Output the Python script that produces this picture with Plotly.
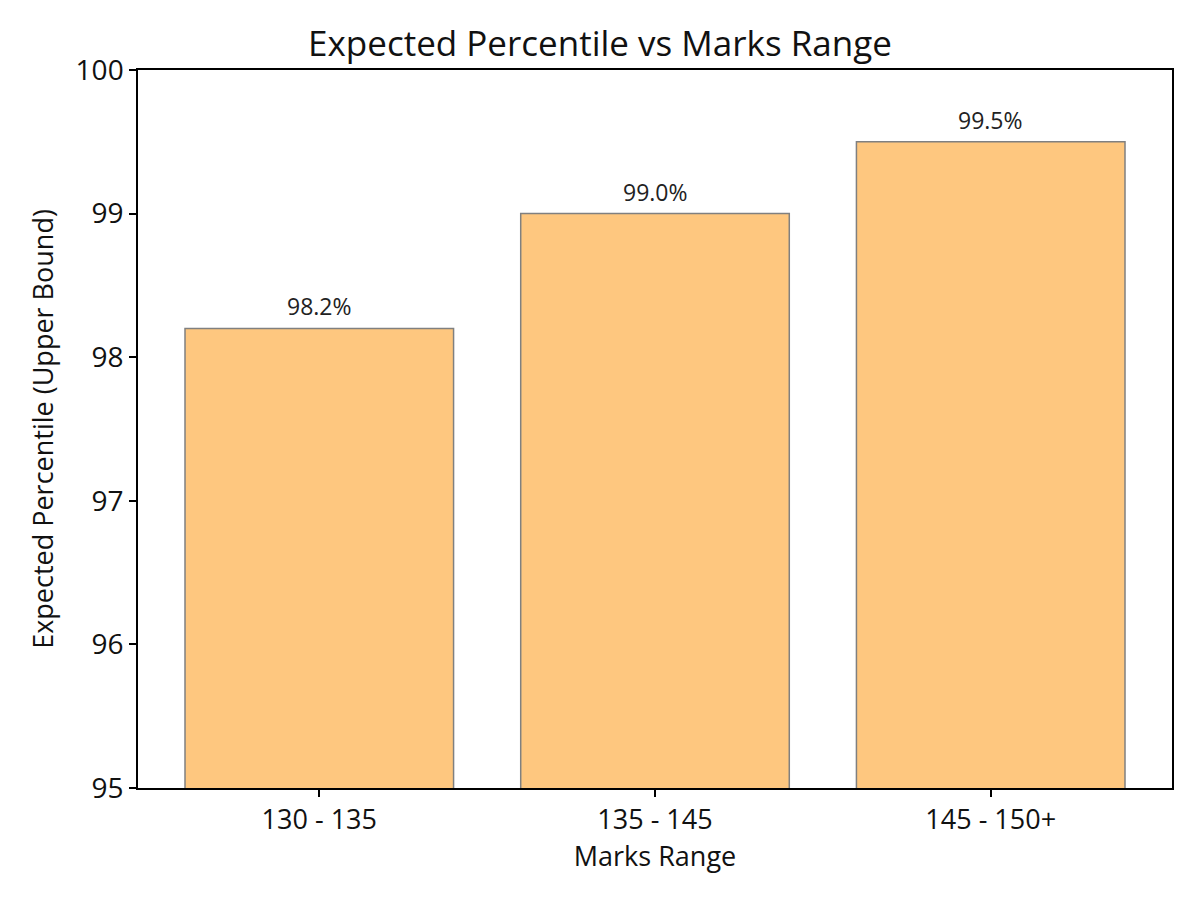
import plotly.graph_objects as go

# data
marks_range = ["130 - 135", "135 - 145", "145 - 150+"]
percentile = [98.2, 99.0, 99.5]
bar_labels = ["98.2%", "99.0%", "99.5%"]

font_family = "'Open Sans', sans-serif"

fig = go.Figure()
fig.add_trace(go.Bar(
    x=list(range(len(marks_range))),
    y=percentile,
    width=0.8,
    marker=dict(color="#fec77f", line=dict(color="#808080", width=1.5)),
    hoverinfo="y",
    showlegend=False,
))

# value labels above the bars
for i, (v, lab) in enumerate(zip(percentile, bar_labels)):
    fig.add_annotation(x=i, y=v, text=lab, showarrow=False,
                       yanchor="bottom", yshift=4,
                       font=dict(size=23, color="#222222", family=font_family))

fig.update_layout(
    width=1184, height=884,
    paper_bgcolor="white", plot_bgcolor="white",
    margin=dict(l=130, r=20, t=62, b=104),
    font=dict(family=font_family, color="#111111"),
    title=dict(text="Expected Percentile vs Marks Range", x=0.5, xanchor="center",
               y=0.96, yanchor="middle", font=dict(size=35, color="#111111")),
)
fig.update_xaxes(
    range=[-0.54, 2.54],
    tickmode="array", tickvals=list(range(len(marks_range))), ticktext=marks_range,
    ticks="outside", ticklen=7, tickwidth=1.5, tickcolor="black",
    showline=True, linecolor="black", linewidth=1.5, mirror=True,
    showgrid=False, zeroline=False,
    tickfont=dict(size=27),
    title=dict(text="Marks Range", font=dict(size=27), standoff=9),
)
fig.update_yaxes(
    range=[95, 100],
    tickvals=[95, 96, 97, 98, 99, 100],
    ticks="outside", ticklen=7, tickwidth=1.5, tickcolor="black",
    showline=True, linecolor="black", linewidth=1.5, mirror=True,
    showgrid=False, zeroline=False,
    tickfont=dict(size=28),
    title=dict(text="Expected Percentile (Upper Bound)", font=dict(size=27), standoff=14),
)

fig.write_html("out.html")
